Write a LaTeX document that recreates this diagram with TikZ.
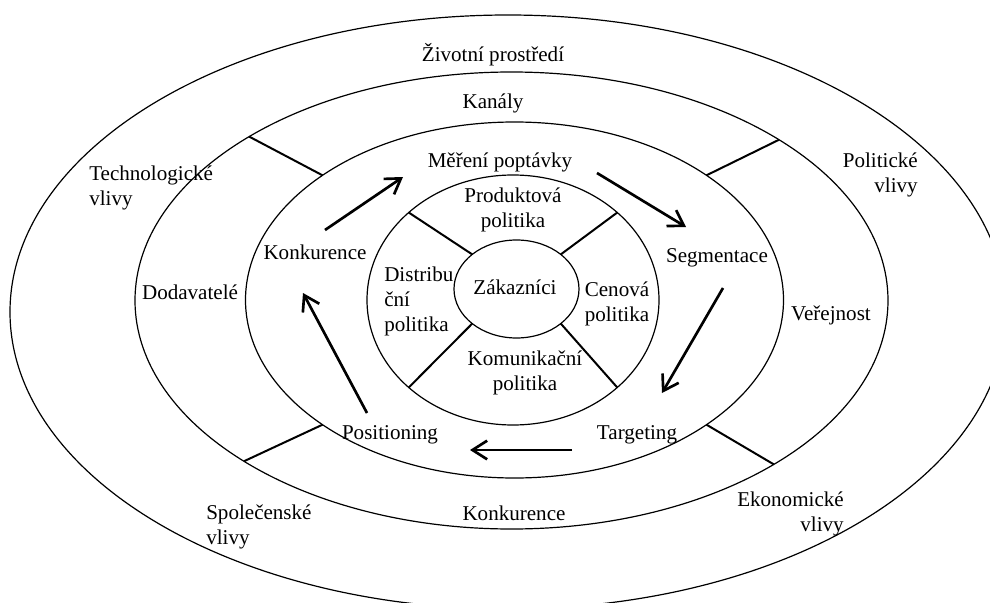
\documentclass[tikz,border=0pt]{standalone}
\usepackage{fontspec}
\setmainfont{Liberation Serif}
\usetikzlibrary{shapes.geometric,arrows.meta}

\begin{document}
\begin{tikzpicture}[x=0.75pt,y=-0.75pt,
  ring/.style={draw, ellipse, line width=0.9pt, inner sep=0pt, outer sep=0pt},
  spoke/.style={line width=1.5pt},
  flow/.style={line width=2pt, -{Straight Barb[length=11pt,width=14pt]}},
  lbl/.style={inner sep=0pt, font=\fontsize{15.8}{18.8}\selectfont, align=center}]
\useasboundingbox (0,0) rectangle (990,603);
\clip (0,0) rectangle (990,603);

% concentric rings
\node[ring, minimum width=747pt,   minimum height=445.5pt]  (outer) at (508,312) {};
\node[ring, minimum width=564.75pt,minimum height=342.75pt] (env)   at (511.5,300.5) {};
\node[ring, minimum width=403.5pt, minimum height=267pt]    (proc)  at (514.5,300) {};
\node[ring, minimum width=219pt,   minimum height=187.5pt]  (mix)   at (513,300) {};
\node[ring, minimum width=93.75pt, minimum height=73.5pt]   (cust)  at (516.5,289) {};

% dividers of the marketing mix
\draw[spoke] (cust.142) -- (mix.140);
\draw[spoke] (cust.38)  -- (mix.40);
\draw[spoke] (cust.218) -- (mix.220);
\draw[spoke] (cust.322) -- (mix.320);

% dividers of the micro-environment
\draw[spoke] (proc.147) -- (env.148.5);
\draw[spoke] (proc.33)  -- (env.31.2);
\draw[spoke] (proc.213) -- (env.211.2);
\draw[spoke] (proc.327) -- (env.328.8);

% labels: macro-environment
\node[lbl] (zp) at (493,55) {Životní prostředí};
\node[lbl, anchor=west, align=left]  (tech) at (89,187.5) {Technologické\\vlivy};
\node[lbl, anchor=east, align=right] (pol)  at (918,174.5) {Politické\\vlivy};
\node[lbl, anchor=west, align=left]  (spol) at (206,526.5) {Společenské\\vlivy};
\node[lbl, anchor=east, align=right] (eko)  at (844,513.5) {Ekonomické\\vlivy};

% labels: micro-environment
\node[lbl] (kan) at (493,103) {Kanály};
\node[lbl] (dod) at (190,292) {Dodavatelé};
\node[lbl] (ver) at (831,315) {Veřejnost};
\node[lbl] (konk) at (514,513) {Konkurence};

% labels: process
\node[lbl] (mer) at (500,162) {Měření poptávky};
\node[lbl] (kon) at (315,252) {Konkurence};
\node[lbl] (seg) at (717,258) {Segmentace};
\node[lbl] (tar) at (637,435) {Targeting};
\node[lbl] (pos) at (390,435) {Positioning};

% labels: marketing mix
\node[lbl] (prod) at (513,210) {Produktová\\politika};
\node[lbl, anchor=west, align=left] (dist) at (384,301) {Distribu\\ční\\politika};
\node[lbl] (cen) at (617,303.5) {Cenová\\politika};
\node[lbl] (kom) at (525,373) {Komunikační\\politika};
\node[lbl] (zak) at (515,287) {Zákazníci};

% cycle arrows
\coordinate (a1s) at (325,230); \coordinate (a1e) at (403,177);
\coordinate (a2s) at (597,173); \coordinate (a2e) at (686,227);
\coordinate (a3s) at (723,288); \coordinate (a3e) at (662,393);
\coordinate (a4s) at (572,450); \coordinate (a4e) at (470,450);
\coordinate (a5s) at (367,413); \coordinate (a5e) at (303,293);
\draw[flow] (a1s) -- (a1e);
\draw[flow] (a2s) -- (a2e);
\draw[flow] (a3s) -- (a3e);
\draw[flow] (a4s) -- (a4e);
\draw[flow] (a5s) -- (a5e);
\end{tikzpicture}
\end{document}
